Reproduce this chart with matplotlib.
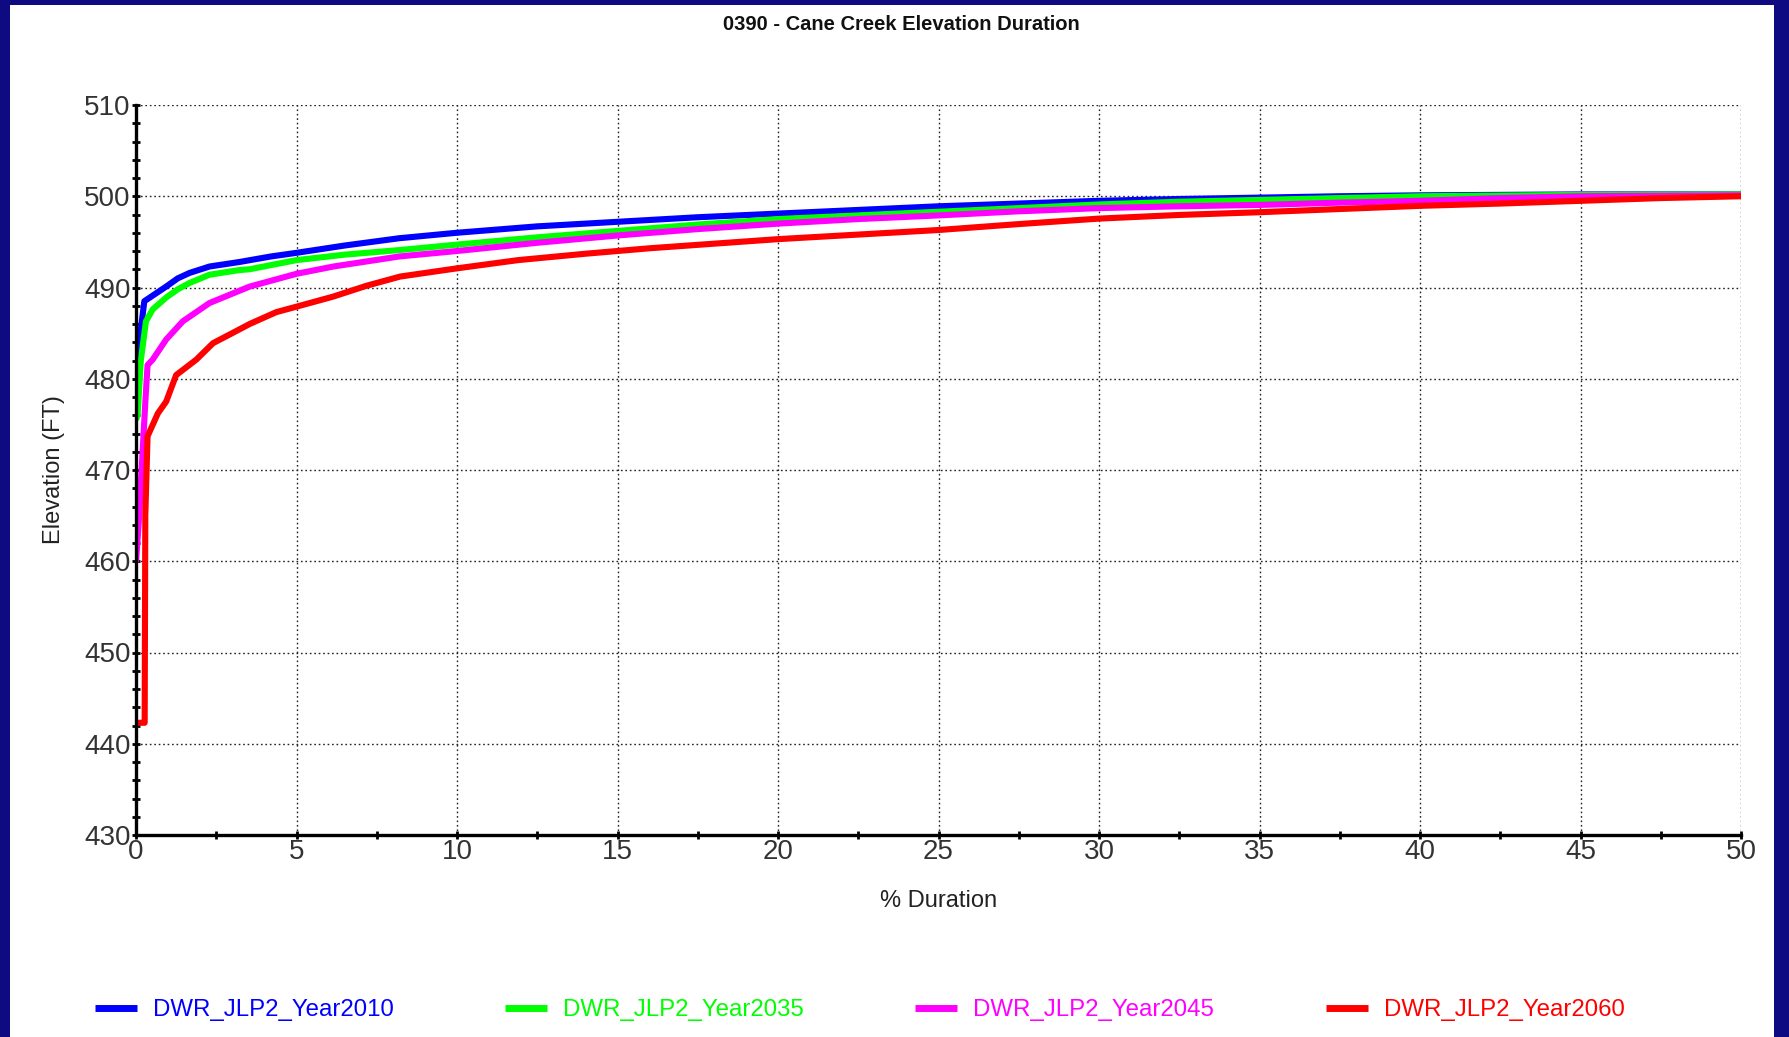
import matplotlib
matplotlib.use("Agg")
import matplotlib.pyplot as plt
from matplotlib.patches import Rectangle
from matplotlib.ticker import MultipleLocator

plt.rcParams["font.family"] = ["Liberation Sans", "DejaVu Sans"]

# Elevation-duration curves for each planning year
blue_x = [0, 0.1, 0.26, 0.6, 0.94, 1.3, 1.67, 2.29, 3.23, 4.2, 5, 6.5, 8.2, 10,
          12.5, 15, 17.5, 20, 22.5, 25, 27.5, 30, 32.5, 35, 37.5, 40, 45, 50]
blue_y = [478, 484, 488.5, 489.3, 490.1, 491.0, 491.6, 492.3, 492.8, 493.4, 493.8,
          494.6, 495.4, 496.0, 496.7, 497.2, 497.7, 498.1, 498.5, 498.9, 499.2,
          499.5, 499.7, 499.85, 500.0, 500.1, 500.2, 500.2]

green_x = [0, 0.05, 0.15, 0.31, 0.52, 0.94, 1.3, 1.67, 2.29, 3.2, 3.54, 5, 6.5, 8.2,
           10, 12.5, 15, 17.5, 20, 22.5, 25, 27.5, 30, 32.5, 35, 37.5, 40, 45, 50]
green_y = [475.5, 476, 482, 486.3, 487.6, 488.9, 489.8, 490.5, 491.4, 491.9, 492.0,
           493.0, 493.6, 494.1, 494.7, 495.5, 496.2, 496.9, 497.5, 497.9, 498.3,
           498.7, 499.1, 499.4, 499.6, 499.8, 500.0, 500.15, 500.2]

magenta_x = [0, 0.1, 0.21, 0.3, 0.36, 0.52, 0.94, 1.46, 2.29, 3.54, 5, 6.15, 8.2,
             10, 12.5, 15, 17.5, 20, 22.5, 25, 27.5, 30, 32.5, 35, 37.5, 40, 42.5,
             45, 50]
magenta_y = [459.9, 465, 472.3, 478, 481.5, 482.1, 484.3, 486.3, 488.3, 490.1,
             491.5, 492.3, 493.4, 494.0, 494.9, 495.7, 496.4, 497.0, 497.5, 497.9,
             498.35, 498.7, 498.9, 499.05, 499.3, 499.5, 499.8, 500.0, 500.1]

red_x = [0, 0.27, 0.29, 0.36, 0.68, 0.94, 1.25, 1.88, 2.4, 3.0, 3.54, 4.37, 5, 6.14,
         7.19, 8.23, 10, 11.9, 14, 16, 18, 20, 22.5, 25, 27.5, 30, 32.5, 35, 37.5,
         40, 42.5, 45, 47.5, 50]
red_y = [442.3, 442.3, 465, 473.7, 476.2, 477.5, 480.4, 482.1, 483.9, 485.0, 486.0,
         487.3, 487.9, 489.0, 490.2, 491.2, 492.1, 493.0, 493.7, 494.3, 494.8,
         495.3, 495.8, 496.3, 496.95, 497.55, 497.95, 498.25, 498.6, 498.95, 499.2,
         499.5, 499.8, 500.0]

series_names = ["DWR_JLP2_Year2010", "DWR_JLP2_Year2035",
                "DWR_JLP2_Year2045", "DWR_JLP2_Year2060"]
series_colors = ["#0000ff", "#00ff00", "#ff00ff", "#ff0000"]

x_ticks = [0, 5, 10, 15, 20, 25, 30, 35, 40, 45, 50]
y_ticks = [430, 440, 450, 460, 470, 480, 490, 500, 510]

W, H = 1789, 1037
fig = plt.figure(figsize=(W / 100, H / 100), dpi=100)
fig.patch.set_facecolor("#0d0a82")
# white panel inside the navy frame
fig.patches.append(Rectangle((10 / W, 0), (W - 15) / W - 10 / W, (H - 5) / H,
                             transform=fig.transFigure, facecolor="white",
                             edgecolor="none", zorder=-10))

ax = fig.add_axes([136 / W, 1 - 835 / H, (1741 - 136) / W, (835 - 105) / H])
ax.set_zorder(2)
ax.set_facecolor("white")

data = [(blue_x, blue_y), (green_x, green_y), (magenta_x, magenta_y), (red_x, red_y)]
for (xs, ys), name, col in zip(data, series_names, series_colors):
    ax.plot(xs, ys, color=col, lw=4.4, label=name, solid_joinstyle="round",
            solid_capstyle="butt", zorder=3)

ax.set_xlim(0, 50)
ax.set_ylim(430, 510)
ax.set_xticks(x_ticks)
ax.set_yticks(y_ticks)
ax.xaxis.set_minor_locator(MultipleLocator(2.5))
ax.yaxis.set_minor_locator(MultipleLocator(2))

ax.grid(True, which="major", linestyle=(0, (1.2, 2.0)), color="#222222", lw=1.0)
for side in ("top", "right"):
    ax.spines[side].set_visible(False)
for side in ("left", "bottom"):
    ax.spines[side].set_linewidth(2.4)
    ax.spines[side].set_color("black")
    ax.spines[side].set_zorder(4)

ax.tick_params(which="both", direction="inout", length=6, width=2, color="black",
               labelsize=20, labelcolor="#333333")
ax.tick_params(axis="x", pad=0)
ax.tick_params(axis="y", pad=1)

ax.set_xlabel("% Duration", fontsize=17, color="#222222", labelpad=18)
ax.set_ylabel("Elevation (FT)", fontsize=17, color="#222222", labelpad=14)

fig.text(901 / W, 1 - 25 / H, "0390 - Cane Creek Elevation Duration",
         ha="center", va="center", fontsize=14.5, fontweight="bold",
         color="#111111")

leg = fig.legend(loc="center left", bbox_to_anchor=(95 / W, 1 - 1010 / H),
                 ncol=4, frameon=False, fontsize=17.3, handlelength=1.75,
                 handletextpad=0.66, columnspacing=4.64, borderpad=0,
                 borderaxespad=0, labelcolor="linecolor")
for line in leg.get_lines():
    line.set_linewidth(5)

fig.savefig("out.png", dpi=100, facecolor=fig.get_facecolor())
